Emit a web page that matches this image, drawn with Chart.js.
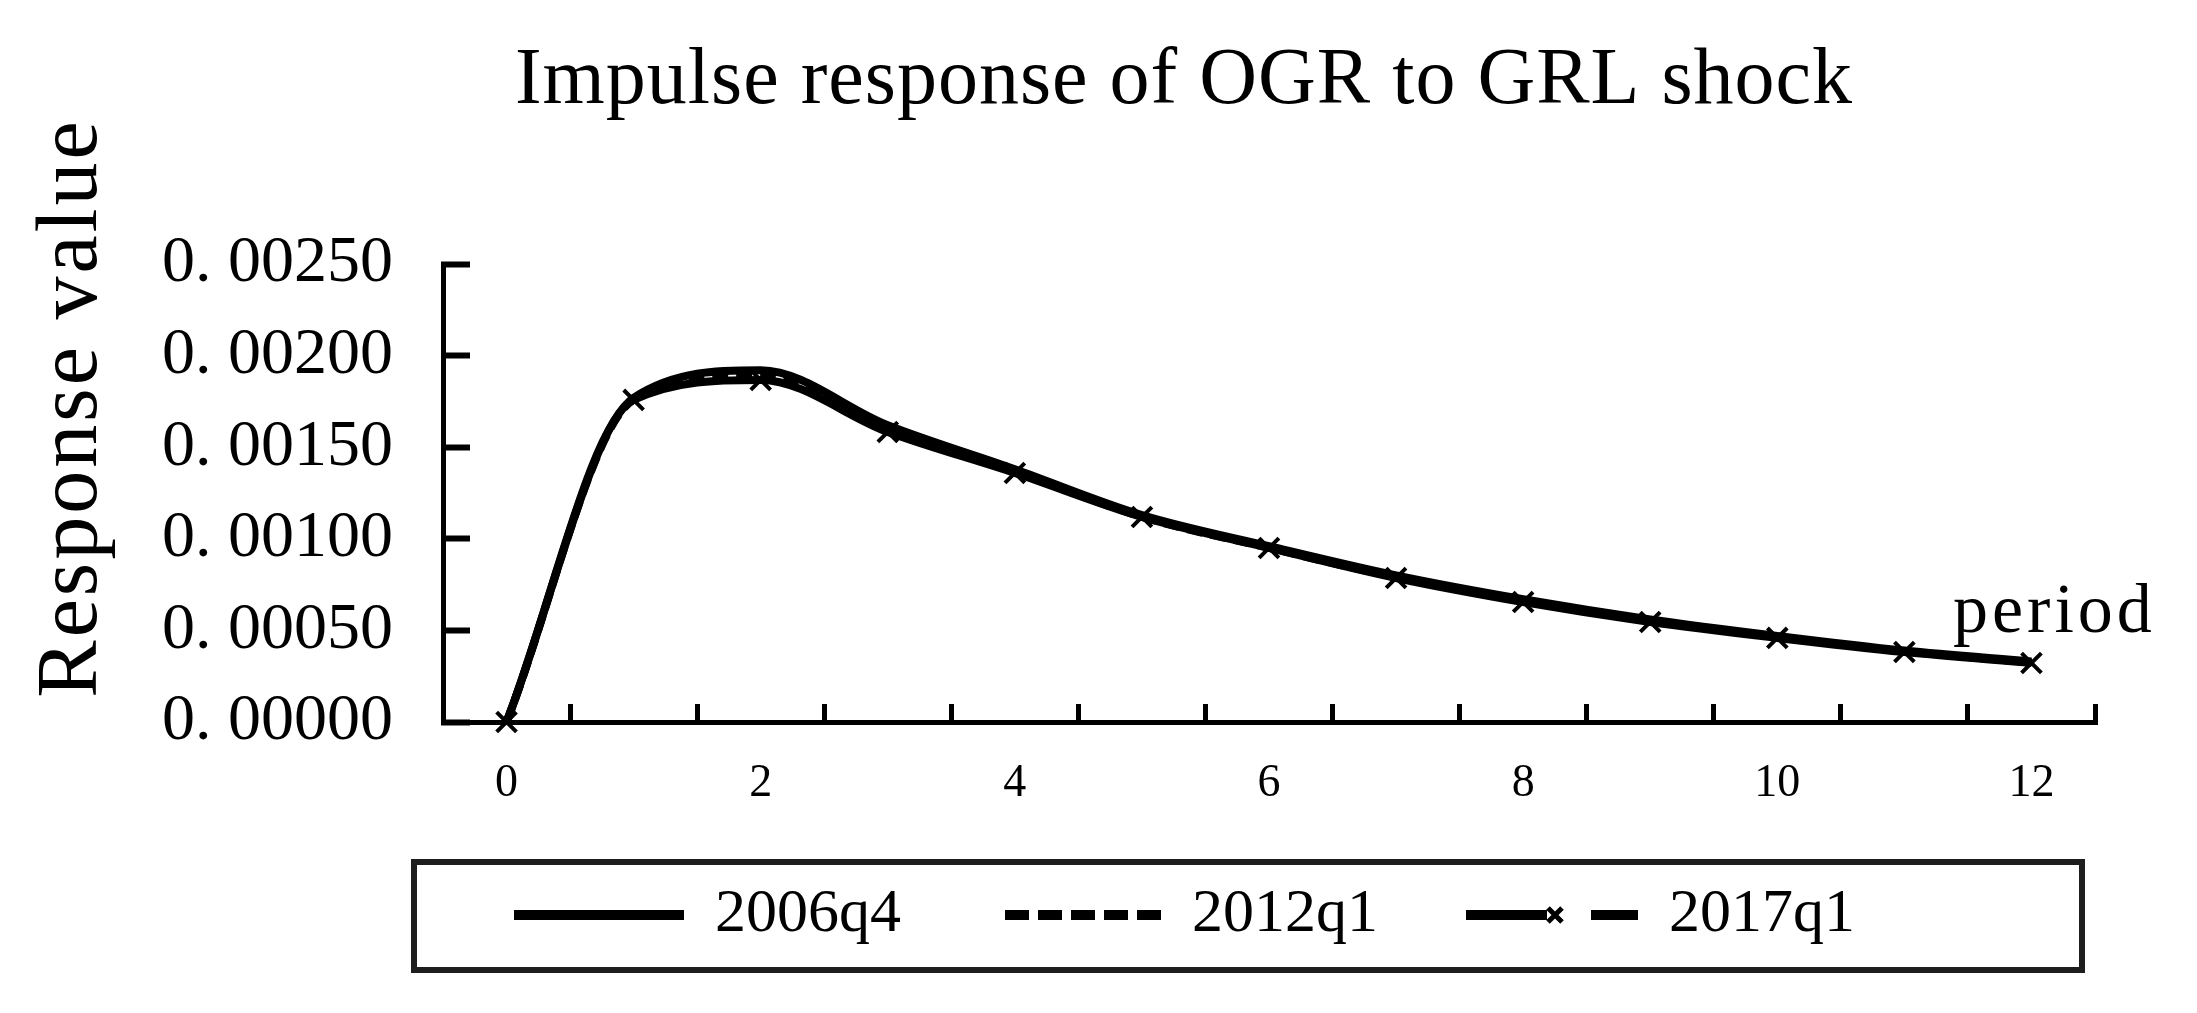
<!DOCTYPE html>
<html>
<head>
<meta charset="utf-8">
<style>
html,body{margin:0;padding:0;background:#ffffff;}
#wrap{width:2197px;height:1013px;}
</style>
<script src="https://cdn.jsdelivr.net/npm/chart.js@4.4.1/dist/chart.umd.min.js"></script>
</head>
<body>
<div id="wrap"><canvas id="c" width="2197" height="1013"></canvas></div>
<script>
// ---- data ----
const periods = ['0','1','2','3','4','5','6','7','8','9','10','11','12'];
const seriesNames = ['2006q4', '2012q1', '2017q1'];
const s2006q4 = [0, 0.00177, 0.00192, 0.00162, 0.00138, 0.00113, 0.00096, 0.00080, 0.00067, 0.00056, 0.00047, 0.00039, 0.00033];
const s2012q1 = [0, 0.00176, 0.00190, 0.00160, 0.00137, 0.00112, 0.00095, 0.00079, 0.000662, 0.000552, 0.000464, 0.000386, 0.000325];
const s2017q1 = [0, 0.001758, 0.001867, 0.001583, 0.001359, 0.001119, 0.000950, 0.000786, 0.000655, 0.000546, 0.000459, 0.000382, 0.000322];
const yTickValues = [0, 0.0005, 0.0010, 0.0015, 0.0020, 0.0025];
const xLabelEvery = 2;
const titleText = 'Impulse response of OGR to GRL shock';
const yAxisTitle = 'Response value';
const xAxisTitle = 'period';

// ---- style ----
const SERIF = "'Liberation Serif', 'Times New Roman', serif";
const INK = '#000000';

// legend sample images (line styles)
const SAMPLE_W = 200, SAMPLE_H = 26;
function makeSample(kind) {
  const c = document.createElement('canvas');
  c.width = SAMPLE_W; c.height = SAMPLE_H;
  const g = c.getContext('2d');
  g.strokeStyle = INK; g.lineWidth = 10; g.lineCap = 'butt';
  const cy = SAMPLE_H / 2;
  if (kind === 0) {
    g.beginPath(); g.moveTo(SAMPLE_W - 170, cy); g.lineTo(SAMPLE_W, cy); g.stroke();
  } else if (kind === 1) {
    g.setLineDash([24, 9]);
    g.beginPath(); g.moveTo(SAMPLE_W - 156, cy); g.lineTo(SAMPLE_W, cy); g.stroke();
  } else {
    const x0 = SAMPLE_W - 172;
    g.beginPath(); g.moveTo(x0, cy); g.lineTo(x0 + 81, cy); g.stroke();
    g.beginPath(); g.moveTo(x0 + 125, cy); g.lineTo(SAMPLE_W, cy); g.stroke();
    g.lineWidth = 5;
    const mx = x0 + 89, r = 7;
    g.beginPath(); g.moveTo(mx - r, cy - r); g.lineTo(mx + r, cy + r);
    g.moveTo(mx + r, cy - r); g.lineTo(mx - r, cy + r); g.stroke();
  }
  return c;
}
const samples = [makeSample(0), makeSample(1), makeSample(2)];

const layoutFix = {
  id: 'layoutFix',
  afterLayout(chart) {
    // let the y tick labels extend left of the scale box (avoid clipping)
    chart.scales.y.left = 0;
  }
};

const textPlugin = {
  id: 'texts',
  afterDraw(chart) {
    const ctx = chart.ctx;
    const ca = chart.chartArea;
    ctx.save();
    ctx.fillStyle = INK;
    // main title
    ctx.font = '80px ' + SERIF;
    ctx.textAlign = 'center';
    ctx.textBaseline = 'alphabetic';
    try { ctx.letterSpacing = '1px'; } catch (e) {}
    ctx.fillText(titleText, 1184, 103);
    // y axis title
    ctx.save();
    ctx.translate(73, 408);
    ctx.rotate(-Math.PI / 2);
    ctx.font = '86px ' + SERIF;
    ctx.textBaseline = 'middle';
    try { ctx.letterSpacing = '3px'; } catch (e) {}
    ctx.fillText(yAxisTitle, 0, 0);
    ctx.restore();
    // x axis title near right end
    ctx.font = '70px ' + SERIF;
    ctx.textAlign = 'left';
    ctx.textBaseline = 'alphabetic';
    try { ctx.letterSpacing = '4px'; } catch (e) {}
    ctx.fillText(xAxisTitle, ca.right - 142, 632);
    ctx.restore();
    // legend frame
    const lg = chart.legend;
    ctx.save();
    ctx.strokeStyle = '#1e1e1e';
    ctx.lineWidth = 6;
    ctx.strokeRect(ca.left - 29, lg.top + 38, (ca.right - 13) - (ca.left - 29), 108);
    ctx.restore();
  }
};

const lineBase = { borderColor: INK, backgroundColor: INK, borderWidth: 8, cubicInterpolationMode: 'monotone', fill: false };

const chart = new Chart(document.getElementById('c'), {
  type: 'line',
  data: {
    labels: periods,
    datasets: [
      Object.assign({ label: seriesNames[0], data: s2006q4, pointRadius: 0, order: 1 }, lineBase),
      Object.assign({ label: seriesNames[1], data: s2012q1, borderDash: [16, 8], pointRadius: 0, order: 2 }, lineBase),
      Object.assign({ label: seriesNames[2], data: s2017q1, pointStyle: 'crossRot', pointRadius: 14, pointBorderWidth: 4, pointBorderColor: INK, clip: false, order: 0 }, lineBase)
    ]
  },
  options: {
    responsive: false,
    animation: false,
    devicePixelRatio: 1,
    layout: { padding: { top: 264, left: 244, right: 102, bottom: 57 } },
    plugins: {
      title: { display: false },
      tooltip: { enabled: false },
      legend: {
        display: true,
        position: 'bottom',
        align: 'center',
        labels: {
          usePointStyle: true,
          pointStyleWidth: SAMPLE_W,
          padding: 60,
          color: INK,
          font: { family: SERIF, size: 62 },
          sort: (a, b) => a.datasetIndex - b.datasetIndex,
          generateLabels: (ch) => {
            const items = Chart.defaults.plugins.legend.labels.generateLabels(ch);
            items.forEach(it => { it.pointStyle = samples[it.datasetIndex]; it.lineDash = []; });
            return items;
          }
        }
      }
    },
    scales: {
      x: {
        type: 'category',
        offset: true,
        grid: { display: true, drawOnChartArea: false, offset: true, drawTicks: true, tickLength: -18, tickWidth: 5, tickColor: INK },
        border: { display: true, color: INK, width: 5 },
        ticks: {
          autoSkip: false, maxRotation: 0, minRotation: 0, padding: 52, color: INK,
          font: { family: SERIF, size: 46 },
          callback: (v, i) => (i % xLabelEvery === 0 ? periods[i] : '')
        },
        afterFit: (s) => { s.height = 102; }
      },
      y: {
        min: yTickValues[0],
        max: yTickValues[yTickValues.length - 1],
        afterBuildTicks: (s) => { s.ticks = yTickValues.map(v => ({ value: v })); },
        grid: { display: true, drawOnChartArea: false, drawTicks: true, tickLength: -27, tickWidth: 6, tickColor: INK },
        border: { display: true, color: INK, width: 5 },
        ticks: {
          padding: 77, color: INK,
          font: { family: SERIF, size: 66 },
          callback: (v) => '0. ' + Number(v).toFixed(5).slice(2)
        },
        afterFit: (s) => { s.width = 199; }
      }
    }
  },
  plugins: [layoutFix, textPlugin]
});
</script>
</body>
</html>
